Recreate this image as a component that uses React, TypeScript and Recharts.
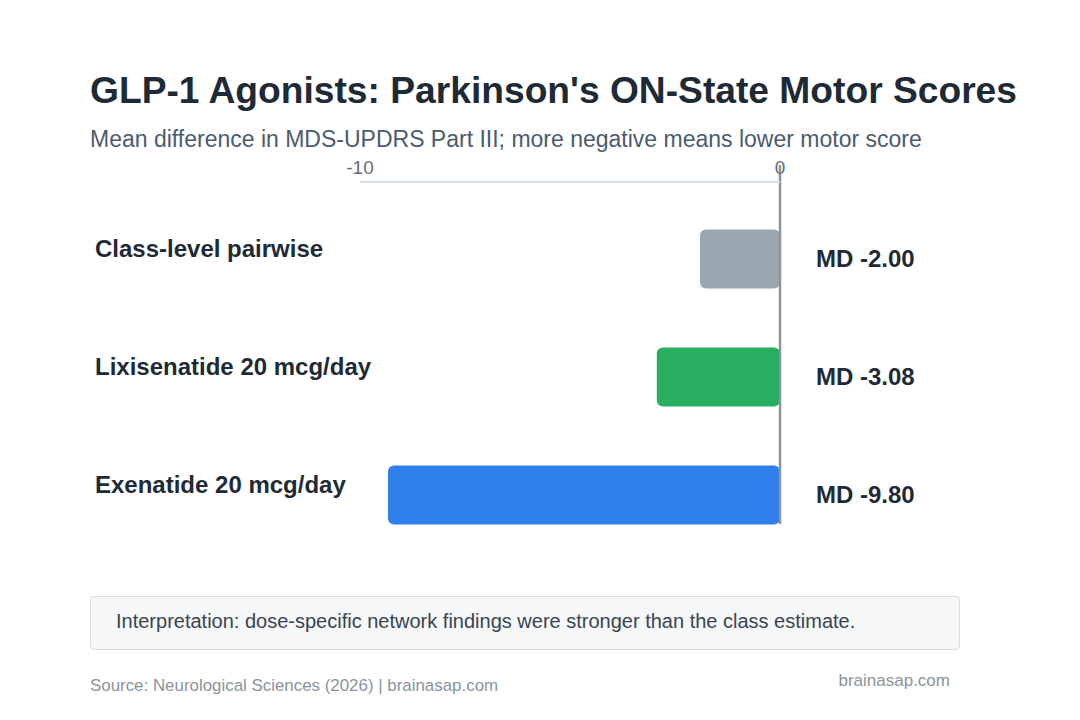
import React from 'react';
import { BarChart, Bar, XAxis, YAxis, Cell, LabelList, ReferenceLine } from 'recharts';

const CATEGORIES = ['Class-level pairwise', 'Lixisenatide 20 mcg/day', 'Exenatide 20 mcg/day'];
const MEAN_DIFF = [-2.0, -3.08, -9.8];
const X_TICKS = [-10.5, 0];
const BAR_COLORS = ['#9aa7b1', '#27ae60', '#2f80ed'];

const data = CATEGORIES.map((name, i) => ({ name, md: MEAN_DIFF[i] }));

const FONT = '"Liberation Sans", Arial, Helvetica, sans-serif';

const CategoryTick: React.FC<any> = ({ y, payload }) => (
  <text x={95} y={y - 10} dy="0.35em" fill="#1f2a37" fontSize={24} fontWeight={700} fontFamily={FONT}>
    {payload.value}
  </text>
);

const ValueLabel: React.FC<any> = ({ x, y, width, height, value }) => {
  const right = Math.max(x, x + width);
  return (
    <text x={right + 36} y={y + height / 2} dy="0.35em" fill="#1f2a37" fontSize={24} fontWeight={700} fontFamily={FONT}>
      {`MD ${Number(value).toFixed(2)}`}
    </text>
  );
};

const ZeroLine: React.FC<any> = ({ x1, y1, x2, y2 }) => (
  <line x1={x1} x2={x2} y1={y1 - 17} y2={y2 - 30} stroke="#8a949c" strokeWidth={2.5} />
);

export default function App() {
  return (
    <div style={{ position: 'absolute', left: 0, top: 0, width: 1080, height: 720, background: '#ffffff', fontFamily: FONT }}>
      <div style={{ position: 'absolute', left: 90, top: 69, fontSize: 37.2, fontWeight: 700, color: '#1f2a37', whiteSpace: 'nowrap' }}>
        GLP-1 Agonists: Parkinson's ON-State Motor Scores
      </div>
      <div style={{ position: 'absolute', left: 90, top: 126, fontSize: 23, color: '#4b5c6e', whiteSpace: 'nowrap' }}>
        Mean difference in MDS-UPDRS Part III; more negative means lower motor score
      </div>

      <div style={{ position: 'absolute', left: 0, top: 0 }}>
        <BarChart
          width={1080}
          height={720}
          data={data}
          layout="vertical"
          margin={{ top: 152, right: 300, bottom: 166, left: 0 }}
          barCategoryGap="25%"
        >
          <XAxis
            type="number"
            orientation="top"
            domain={[-10.5, 0]}
            ticks={X_TICKS}
            tickFormatter={(v: number) => String(Math.round(v))}
            axisLine={{ stroke: '#d5dde5', strokeWidth: 2 }}
            tickLine={false}
            tick={{ fill: '#666d77', fontSize: 19, fontFamily: FONT }}
          />
          <YAxis
            type="category"
            dataKey="name"
            width={360}
            axisLine={false}
            tickLine={false}
            padding={{ top: 18, bottom: 0 }}
            tick={<CategoryTick />}
          />
          <Bar dataKey="md" radius={6} isAnimationActive={false}>
            {data.map((d, i) => (
              <Cell key={d.name} fill={BAR_COLORS[i]} />
            ))}
            <LabelList dataKey="md" content={<ValueLabel />} />
          </Bar>
          <ReferenceLine x={0} shape={<ZeroLine />} />
        </BarChart>
      </div>

      <div
        style={{
          position: 'absolute',
          left: 90,
          top: 596,
          width: 868,
          height: 52,
          background: '#f5f7f9',
          border: '1px solid #d5dde5',
          borderRadius: 4,
          boxSizing: 'content-box',
        }}
      >
        <div style={{ position: 'absolute', left: 25, top: 13, fontSize: 20, color: '#3a4450', whiteSpace: 'nowrap' }}>
          Interpretation: dose-specific network findings were stronger than the class estimate.
        </div>
      </div>

      <div style={{ position: 'absolute', left: 90, top: 676, fontSize: 16.9, color: '#8a949c', whiteSpace: 'nowrap' }}>
        Source: Neurological Sciences (2026) | brainasap.com
      </div>
      <div style={{ position: 'absolute', right: 130, top: 671, fontSize: 17, color: '#8a949c', whiteSpace: 'nowrap' }}>
        brainasap.com
      </div>
    </div>
  );
}
